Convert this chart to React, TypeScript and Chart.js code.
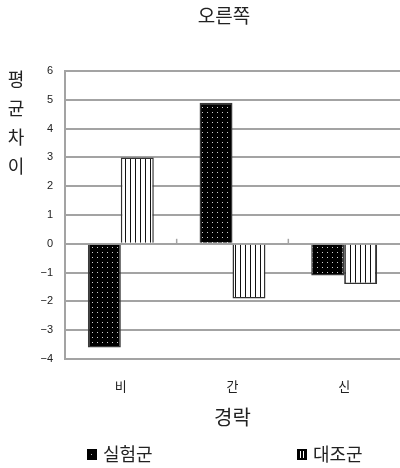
import React, { useEffect, useRef } from "react";
import { Chart, registerables } from "chart.js";

Chart.register(...registerables);

const chartTitle = "오른쪽";
const yTitleChars = ["평", "균", "차", "이"];
const xTitle = "경락";
const categories = ["비", "간", "신"];
const seriesNames = ["실험군", "대조군"];
const experimental = [-3.6, 4.9, -1.1];
const control = [3.0, -1.9, -1.4];
const yMin = -4;
const yMax = 6;

const KR = "'Noto Sans CJK KR', 'Noto Sans', sans-serif";
const NUM = "'Liberation Sans', Arial, sans-serif";
const GRID = "#a3a3a3";
const INK = "#222";

function makeDotPattern(ctx: CanvasRenderingContext2D) {
  const c = document.createElement("canvas");
  c.width = 5;
  c.height = 5;
  const g = c.getContext("2d")!;
  g.fillStyle = "#000";
  g.fillRect(0, 0, 5, 5);
  g.fillStyle = "#cfcfcf";
  g.fillRect(2, 2, 1, 1);
  return ctx.createPattern(c, "repeat")!;
}

function makeStripePattern(ctx: CanvasRenderingContext2D) {
  const c = document.createElement("canvas");
  c.width = 5;
  c.height = 4;
  const g = c.getContext("2d")!;
  g.fillStyle = "#fff";
  g.fillRect(0, 0, 5, 4);
  g.fillStyle = "#111";
  g.fillRect(0, 0, 1, 4);
  return ctx.createPattern(c, "repeat")!;
}

// Titles, zero-line category ticks and the legend
const decorPlugin = {
  id: "decor",
  afterDraw(chart: any) {
    const ctx: CanvasRenderingContext2D = chart.ctx;
    const area = chart.chartArea;
    const x = chart.scales.x;
    const y = chart.scales.y;
    ctx.save();

    // small ticks on the zero line at category boundaries
    const y0 = y.getPixelForValue(0);
    ctx.strokeStyle = GRID;
    ctx.lineWidth = 1.5;
    for (let i = 1; i < categories.length; i++) {
      const bx = (x.getPixelForValue(i - 1) + x.getPixelForValue(i)) / 2;
      ctx.beginPath();
      ctx.moveTo(bx, y0);
      ctx.lineTo(bx, y0 - 5);
      ctx.stroke();
    }

    ctx.fillStyle = INK;
    ctx.textAlign = "center";
    ctx.textBaseline = "middle";

    // chart title
    ctx.font = `19px ${KR}`;
    ctx.fillText(chartTitle, 224, 16);

    // vertical y-axis title, one character per line
    ctx.font = `18px ${KR}`;
    yTitleChars.forEach((ch, i) => {
      ctx.fillText(ch, 16, 79 + i * 29);
    });

    // x-axis title
    ctx.font = `20px ${KR}`;
    ctx.fillText(xTitle, (area.left + area.right) / 2, 417);

    // legend
    const legendY = 454;
    const items = [
      { x: 87, pattern: "dot" },
      { x: 297, pattern: "stripe" },
    ];
    items.forEach((it, i) => {
      ctx.fillStyle = "#000";
      ctx.fillRect(it.x, legendY - 5, 10, 11);
      if (it.pattern === "dot") {
        ctx.fillStyle = "#bbb";
        ctx.fillRect(it.x + 4, legendY, 1, 1);
      } else {
        ctx.fillStyle = "#fff";
        ctx.fillRect(it.x + 3, legendY - 3, 1, 7);
        ctx.fillRect(it.x + 6, legendY - 3, 1, 7);
      }
      ctx.fillStyle = INK;
      ctx.textAlign = "left";
      ctx.font = `18px ${KR}`;
      ctx.fillText(seriesNames[i], it.x + 16, legendY);
    });

    ctx.restore();
  },
};

export default function App() {
  const ref = useRef<HTMLCanvasElement>(null);

  useEffect(() => {
    document.body.style.margin = "0";
    const canvas = ref.current!;
    const ctx = canvas.getContext("2d")!;
    const dots = makeDotPattern(ctx);
    const stripes = makeStripePattern(ctx);

    const chart = new Chart(canvas, {
      type: "bar",
      data: {
        labels: categories,
        datasets: [
          {
            label: seriesNames[0],
            data: experimental,
            backgroundColor: dots,
            borderColor: "#3a3a3a",
            borderWidth: 1.5,
            categoryPercentage: 0.59,
            barPercentage: 1,
          },
          {
            label: seriesNames[1],
            data: control,
            backgroundColor: stripes,
            borderColor: "#333",
            borderWidth: 1.5,
            categoryPercentage: 0.59,
            barPercentage: 1,
          },
        ],
      },
      options: {
        responsive: false,
        devicePixelRatio: 1,
        animation: false,
        layout: { padding: { top: 71, left: 0, right: 0, bottom: 0 } },
        plugins: {
          legend: { display: false },
          title: { display: false },
          tooltip: { enabled: false },
        },
        scales: {
          x: {
            grid: { display: false, drawTicks: false },
            border: { display: true, color: GRID, width: 2 },
            ticks: {
              color: INK,
              padding: 19,
              font: { family: KR, size: 13 },
            },
            afterFit: (s: any) => {
              s.height = 109;
            },
          },
          y: {
            min: yMin,
            max: yMax,
            grid: { color: GRID, lineWidth: 2, drawTicks: false },
            border: { display: true, color: GRID, width: 2 },
            ticks: {
              stepSize: 1,
              color: INK,
              padding: 12,
              font: { family: NUM, size: 11 },
              callback: (v: any) => String(v).replace("-", "\u2212"),
            },
            afterFit: (s: any) => {
              s.width = 65;
            },
          },
        },
      },
      plugins: [decorPlugin],
    });

    return () => chart.destroy();
  }, []);

  return <canvas ref={ref} width={400} height={468} style={{ display: "block" }} />;
}
